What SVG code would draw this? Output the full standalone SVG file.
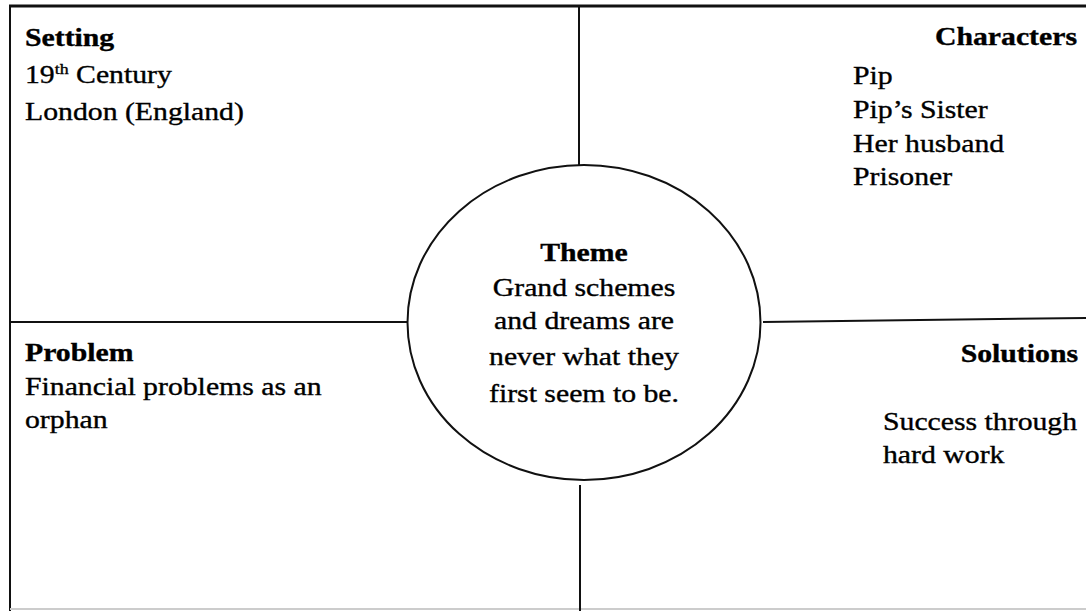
<svg xmlns="http://www.w3.org/2000/svg" width="1086" height="611" viewBox="0 0 1086 611">
<style>
text{font-family:"Liberation Serif","Times New Roman",serif;font-size:25px;fill:#000;stroke:#000;stroke-width:0.35}
.h{font-weight:bold}
.ln{stroke:#111;stroke-width:2;fill:none}
</style>
<rect x="0" y="0" width="1086" height="611" fill="#fff"/>
<g id="connectors">
<line class="ln" x1="9" y1="6" x2="1086" y2="6" style="stroke-width:3"/>
<line class="ln" x1="10" y1="5" x2="10" y2="611"/>
<line x1="10" y1="609" x2="1086" y2="609" stroke="#ccc" stroke-width="2"/>
<line class="ln" x1="579" y1="6" x2="579" y2="165"/>
<line class="ln" x1="580" y1="485" x2="580" y2="611"/>
<line class="ln" x1="10" y1="322" x2="407" y2="322"/>
<line class="ln" x1="763" y1="322" x2="1086" y2="318"/>
</g>
<g id="setting" transform="translate(25,0) scale(1.19,1)">
<text class="h" x="0" y="46">Setting</text>
<text x="0" y="83">19<tspan font-size="15" dy="-9">th</tspan><tspan dy="9"> Century</tspan></text>
<text x="0" y="120">London (England)</text>
</g>
<g id="characters">
<g transform="translate(1077,0) scale(1.19,1)"><text class="h" x="0" y="45" text-anchor="end">Characters</text></g>
<g transform="translate(853,0) scale(1.19,1)">
<text x="0" y="84">Pip</text>
<text x="0" y="118">Pip’s Sister</text>
<text x="0" y="152">Her husband</text>
<text x="0" y="185">Prisoner</text>
</g>
</g>
<g id="theme">
<ellipse class="ln" cx="584" cy="322.5" rx="176.5" ry="157.5" fill="#fff"/>
<g transform="translate(584,0) scale(1.19,1)">
<text class="h" x="0" y="261" text-anchor="middle">Theme</text>
<text x="0" y="296" text-anchor="middle">Grand schemes</text>
<text x="0" y="329" text-anchor="middle">and dreams are</text>
<text x="0" y="365" text-anchor="middle">never what they</text>
<text x="0" y="402" text-anchor="middle">first seem to be.</text>
</g>
</g>
<g id="problem" transform="translate(25,0) scale(1.19,1)">
<text class="h" x="0" y="361">Problem</text>
<text x="0" y="395">Financial problems as an</text>
<text x="0" y="428">orphan</text>
</g>
<g id="solutions">
<g transform="translate(1078,0) scale(1.19,1)"><text class="h" x="0" y="362" text-anchor="end">Solutions</text></g>
<g transform="translate(883,0) scale(1.19,1)">
<text x="0" y="430">Success through</text>
<text x="0" y="463">hard work</text>
</g>
</g>
</svg>
